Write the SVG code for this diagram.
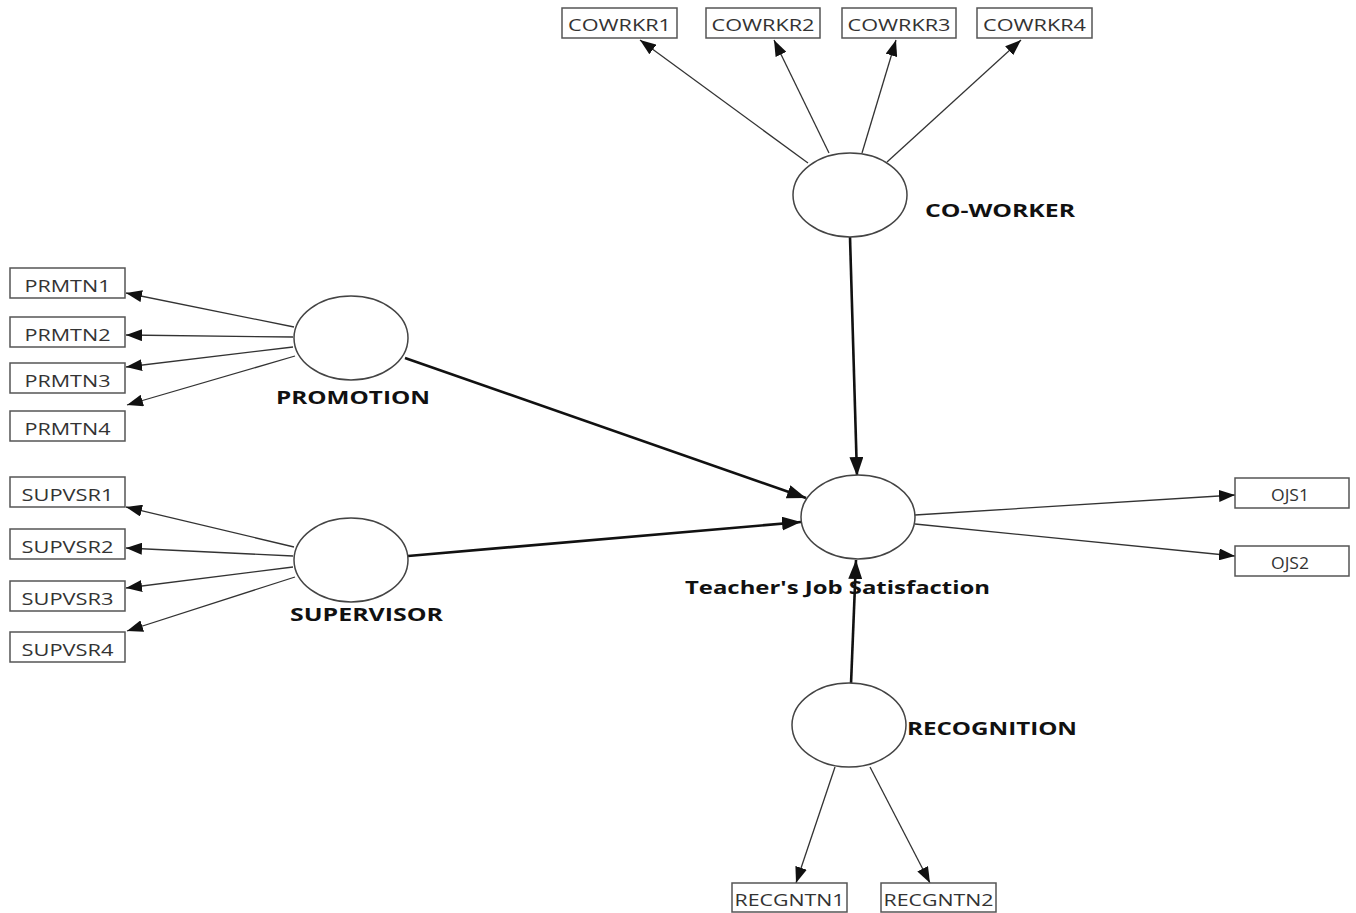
<svg xmlns="http://www.w3.org/2000/svg" width="1356" height="913" viewBox="0 0 1356 913">
<style>
.box{fill:#fff;stroke:#555;stroke-width:1.5}
.bt{font-family:"Open Sans","Noto Sans",sans-serif;font-size:17px;fill:#333;text-anchor:middle}
.lv{fill:#fff;stroke:#444;stroke-width:1.5}
.lab{font-family:"Open Sans","Noto Sans",sans-serif;font-size:18px;font-weight:bold;fill:#111}
.thin{stroke:#333;stroke-width:1.3;fill:none;marker-end:url(#a1)}
.thick{stroke:#111;stroke-width:2.6;fill:none;marker-end:url(#a2)}
</style>
<defs>
<marker id="a1" markerUnits="userSpaceOnUse" markerWidth="16" markerHeight="12" refX="16" refY="6" orient="auto"><path d="M0,0 L16,6 L0,12 z" fill="#111"/></marker>
<marker id="a2" markerUnits="userSpaceOnUse" markerWidth="19" markerHeight="14" refX="19" refY="7" orient="auto"><path d="M0,0 L19,7 L0,14 z" fill="#111"/></marker>
</defs>
<rect width="1356" height="913" fill="#fff"/>
<g id="connectors">
<line class="thin" x1="808" y1="163" x2="640" y2="40"/>
<line class="thin" x1="829" y1="153" x2="774" y2="40"/>
<line class="thin" x1="862" y1="153" x2="896" y2="40"/>
<line class="thin" x1="887" y1="162" x2="1021" y2="40"/>
<line class="thin" x1="294" y1="327" x2="126" y2="293"/>
<line class="thin" x1="293" y1="337" x2="126" y2="335"/>
<line class="thin" x1="293" y1="347" x2="126" y2="367"/>
<line class="thin" x1="295" y1="356" x2="127" y2="405"/>
<line class="thin" x1="294" y1="547" x2="126" y2="507"/>
<line class="thin" x1="293" y1="556" x2="126" y2="548"/>
<line class="thin" x1="293" y1="567" x2="126" y2="588"/>
<line class="thin" x1="295" y1="577" x2="127" y2="631"/>
<line class="thin" x1="915" y1="515" x2="1235" y2="495"/>
<line class="thin" x1="915" y1="524" x2="1235" y2="556"/>
<line class="thin" x1="835" y1="767" x2="796" y2="883"/>
<line class="thin" x1="870" y1="767" x2="930" y2="883"/>
<line class="thick" x1="405" y1="358" x2="806" y2="498"/>
<line class="thick" x1="408" y1="556" x2="801" y2="522"/>
<line class="thick" x1="850" y1="237" x2="857" y2="476"/>
<line class="thick" x1="851" y1="684" x2="856" y2="560"/>
</g>
<g id="COWRKR1"><rect class="box" x="562" y="8" width="115" height="30"/><text class="bt" x="619.5" y="31" textLength="103" lengthAdjust="spacingAndGlyphs">COWRKR1</text></g>
<g id="COWRKR2"><rect class="box" x="706" y="8" width="114" height="30"/><text class="bt" x="763" y="31" textLength="103" lengthAdjust="spacingAndGlyphs">COWRKR2</text></g>
<g id="COWRKR3"><rect class="box" x="842" y="8" width="114" height="30"/><text class="bt" x="899" y="31" textLength="103" lengthAdjust="spacingAndGlyphs">COWRKR3</text></g>
<g id="COWRKR4"><rect class="box" x="977" y="8" width="115" height="30"/><text class="bt" x="1034.5" y="31" textLength="103" lengthAdjust="spacingAndGlyphs">COWRKR4</text></g>
<g id="CO-WORKER"><ellipse class="lv" cx="850" cy="195" rx="57" ry="42"/><text class="lab" x="925" y="217" textLength="150" lengthAdjust="spacingAndGlyphs">CO-WORKER</text></g>
<g id="PRMTN1"><rect class="box" x="10" y="268" width="115" height="30"/><text class="bt" x="67.5" y="292" textLength="86" lengthAdjust="spacingAndGlyphs">PRMTN1</text></g>
<g id="PRMTN2"><rect class="box" x="10" y="317" width="115" height="30"/><text class="bt" x="67.5" y="341" textLength="86" lengthAdjust="spacingAndGlyphs">PRMTN2</text></g>
<g id="PRMTN3"><rect class="box" x="10" y="363" width="115" height="30"/><text class="bt" x="67.5" y="387" textLength="86" lengthAdjust="spacingAndGlyphs">PRMTN3</text></g>
<g id="PRMTN4"><rect class="box" x="10" y="411" width="115" height="30"/><text class="bt" x="67.5" y="435" textLength="86" lengthAdjust="spacingAndGlyphs">PRMTN4</text></g>
<g id="PROMOTION"><ellipse class="lv" cx="351" cy="338" rx="57" ry="42"/><text class="lab" x="276" y="404" textLength="154" lengthAdjust="spacingAndGlyphs">PROMOTION</text></g>
<g id="SUPVSR1"><rect class="box" x="10" y="477" width="115" height="30"/><text class="bt" x="67.5" y="501" textLength="92" lengthAdjust="spacingAndGlyphs">SUPVSR1</text></g>
<g id="SUPVSR2"><rect class="box" x="10" y="529" width="115" height="30"/><text class="bt" x="67.5" y="553" textLength="92" lengthAdjust="spacingAndGlyphs">SUPVSR2</text></g>
<g id="SUPVSR3"><rect class="box" x="10" y="581" width="115" height="30"/><text class="bt" x="67.5" y="605" textLength="92" lengthAdjust="spacingAndGlyphs">SUPVSR3</text></g>
<g id="SUPVSR4"><rect class="box" x="10" y="632" width="115" height="30"/><text class="bt" x="67.5" y="656" textLength="92" lengthAdjust="spacingAndGlyphs">SUPVSR4</text></g>
<g id="SUPERVISOR"><ellipse class="lv" cx="351" cy="560" rx="57" ry="42"/><text class="lab" x="290" y="621" textLength="153" lengthAdjust="spacingAndGlyphs">SUPERVISOR</text></g>
<g id="TJS"><ellipse class="lv" cx="858" cy="517" rx="57" ry="42"/><text class="lab" x="685" y="594" textLength="305" lengthAdjust="spacingAndGlyphs">Teacher's Job Satisfaction</text></g>
<g id="OJS1"><rect class="box" x="1235" y="478" width="114" height="30"/><text class="bt" x="1290" y="501" textLength="38" lengthAdjust="spacingAndGlyphs">OJS1</text></g>
<g id="OJS2"><rect class="box" x="1235" y="546" width="114" height="30"/><text class="bt" x="1290" y="569" textLength="38" lengthAdjust="spacingAndGlyphs">OJS2</text></g>
<g id="RECOGNITION"><ellipse class="lv" cx="849" cy="725" rx="57" ry="42"/><text class="lab" x="907" y="735" textLength="170" lengthAdjust="spacingAndGlyphs">RECOGNITION</text></g>
<g id="RECGNTN1"><rect class="box" x="732" y="883" width="115" height="29"/><text class="bt" x="789.5" y="906" textLength="110" lengthAdjust="spacingAndGlyphs">RECGNTN1</text></g>
<g id="RECGNTN2"><rect class="box" x="881" y="883" width="115" height="29"/><text class="bt" x="938.5" y="906" textLength="110" lengthAdjust="spacingAndGlyphs">RECGNTN2</text></g>
</svg>
